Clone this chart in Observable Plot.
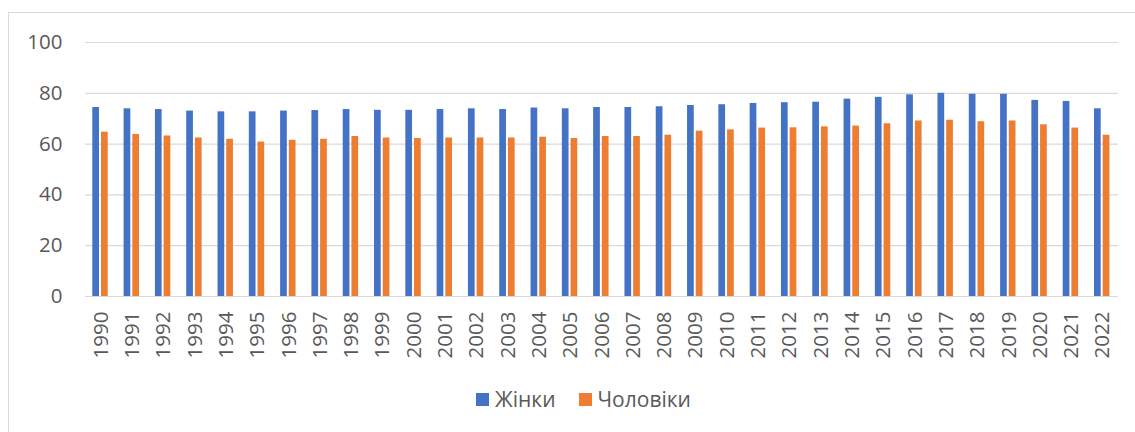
<!DOCTYPE html>
<html>
<head>
<meta charset="utf-8">
<script src="https://cdn.jsdelivr.net/npm/d3@7"></script>
<script src="https://cdn.jsdelivr.net/npm/@observablehq/plot@0.6"></script>
<style>
  html, body { margin: 0; padding: 0; background: #fff; overflow: hidden; }
  #frame { position: absolute; left: 8px; top: 12px; width: 1140px; height: 440px; border: 1px solid #d9d9d9; box-sizing: border-box; }
  #chart { position: absolute; left: 0; top: 0; }
  #legend { position: absolute; left: 16px; top: 385px; width: 1135px; display: flex; justify-content: center; gap: 23px;
            font-family: "Open Sans", sans-serif; font-size: 21px; color: #595959; }
  .item { display: flex; align-items: center; gap: 6px; }
  .sw { width: 13px; height: 13px; display: inline-block; }
</style>
</head>
<body>
<div id="frame"></div>
<div id="chart"></div>
<div id="legend"></div>
<script>
const years = ["1990","1991","1992","1993","1994","1995","1996","1997","1998","1999","2000","2001","2002","2003","2004","2005","2006","2007","2008","2009","2010","2011","2012","2013","2014","2015","2016","2017","2018","2019","2020","2021","2022"];
const women = [74.4,73.9,73.6,73.0,72.7,72.7,73.0,73.2,73.6,73.3,73.3,73.6,73.9,73.6,74.2,73.9,74.4,74.4,74.7,75.2,75.5,76.0,76.3,76.5,77.7,78.4,79.4,80.0,79.6,79.6,77.2,76.8,73.9];
const men   = [64.7,63.8,63.2,62.4,61.9,60.8,61.5,61.9,63.0,62.4,62.2,62.4,62.4,62.4,62.7,62.2,63.0,63.0,63.5,65.1,65.6,66.3,66.4,66.8,67.1,68.0,69.1,69.4,68.8,69.1,67.6,66.3,63.5];
const seriesNames = ["Жінки", "Чоловіки"];
const seriesColors = ["#4472c4", "#ed7d31"];
const yTicks = [0, 20, 40, 60, 80, 100];

const data = years.map((y, i) => ({year: y, women: women[i], men: men[i]}));

const chart = Plot.plot({
  width: 1135,
  height: 370,
  marginTop: 42,
  marginBottom: 74,
  marginLeft: 85,
  marginRight: 17,
  style: {fontFamily: "'Open Sans', sans-serif", fontSize: "20.5px", color: "#595959", background: "transparent"},
  x: {type: "band", domain: years, padding: 0, round: false},
  y: {domain: [0, 100]},
  marks: [
    Plot.ruleY(yTicks, {stroke: "#d9d9d9", strokeWidth: 1.2}),
    Plot.barY(data, {x: "year", y: "women", fill: seriesColors[0], insetLeft: 7.3, insetRight: 17.3}),
    Plot.barY(data, {x: "year", y: "men", fill: seriesColors[1], insetLeft: 16, insetRight: 8.6}),
    Plot.axisY({ticks: yTicks, tickSize: 0, tickPadding: 23, label: null}),
    Plot.axisX({tickSize: 0, tickPadding: 15, tickRotate: -90, label: null})
  ]
});
document.getElementById("chart").appendChild(chart);

const legend = document.getElementById("legend");
seriesNames.forEach((name, i) => {
  const item = document.createElement("div");
  item.className = "item";
  const sw = document.createElement("span");
  sw.className = "sw";
  sw.style.background = seriesColors[i];
  const t = document.createElement("span");
  t.textContent = name;
  item.appendChild(sw);
  item.appendChild(t);
  legend.appendChild(item);
});
</script>
</body>
</html>
